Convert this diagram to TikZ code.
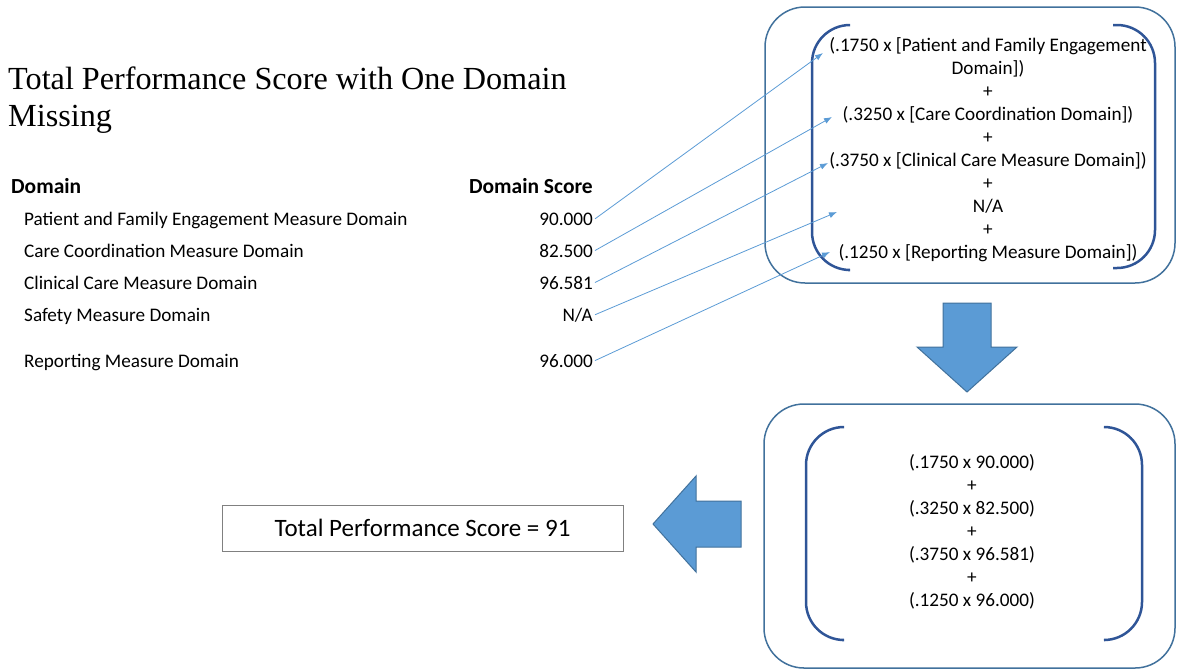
\documentclass[tikz,border=0pt]{standalone}
\usepackage{fontspec}
\setmainfont{Carlito}
\newfontfamily\titlefont{Liberation Serif}
\usetikzlibrary{arrows.meta,calc}

\definecolor{boxblue}{HTML}{41719C}
\definecolor{brkblue}{HTML}{2F5597}
\definecolor{fillblue}{HTML}{5B9BD5}
\definecolor{lineblue}{HTML}{5B9BD5}

\tikzset{
  txt/.style={inner sep=2pt,font=\fontsize{19.2}{23}\selectfont},
  head/.style={inner sep=2pt,font=\fontsize{21.5}{25}\selectfont\bfseries},
  conn/.style={draw=lineblue,line width=0.8pt,-{Latex[length=8pt,width=6pt]}},
  bigbox/.style={draw=boxblue,line width=1.5pt,rounded corners=40pt},
  brk/.style={draw=brkblue,line width=2.5pt,rounded corners=38pt},
  fatarrow/.style={draw=boxblue,line width=1pt,fill=fillblue,line join=miter},
}

\begin{document}
\begin{tikzpicture}[x=1pt,y=-1pt]
\useasboundingbox (0,0) rectangle (1177,670);

% title
\node[anchor=base west,inner sep=0pt,font=\fontsize{32.2}{37}\titlefont] (title) at (8,89) {Total Performance Score with One Domain};
\node[anchor=base west,inner sep=0pt,font=\fontsize{32.2}{37}\titlefont] (title2) at (8,126) {Missing};

% table
\node[head,anchor=base west] (hd) at (9,193) {Domain};
\node[head,anchor=base east] (hs) at (595,193) {Domain Score};

\node[txt,anchor=base west] (d1) at (22,225) {Patient and Family Engagement Measure Domain};
\node[txt,anchor=base west] (d2) at (22,257) {Care Coordination Measure Domain};
\node[txt,anchor=base west] (d3) at (22,289) {Clinical Care Measure Domain};
\node[txt,anchor=base west] (d4) at (22,321) {Safety Measure Domain};
\node[txt,anchor=base west] (d5) at (22,367) {Reporting Measure Domain};

\node[txt,anchor=base east] (v1) at (595,225) {90.000};
\node[txt,anchor=base east] (v2) at (595,257) {82.500};
\node[txt,anchor=base east] (v3) at (595,289) {96.581};
\node[txt,anchor=base east] (v4) at (595,321) {N/A};
\node[txt,anchor=base east] (v5) at (595,367) {96.000};

% formula box
\draw[bigbox] (765,7) rectangle (1175,283);
\draw[brk] (848,25) -- (812,25) -- (812,270) -- (848,270);
\draw[brk] (1113,25) -- (1155,25) -- (1155,268) -- (1113,268);
\node[txt,align=center] (formula) at (988,150) {(.1750 x [Patient and Family Engagement\\Domain])\\+\\(.3250 x [Care Coordination Domain])\\+\\(.3750 x [Clinical Care Measure Domain])\\+\\N/A\\+\\(.1250 x [Reporting Measure Domain])};

\coordinate (t1) at (823,53);
\coordinate (t2) at (832,117);
\coordinate (t3) at (828,163);
\coordinate (t4) at (837,212);
\coordinate (t5) at (830,252);

\draw[conn] (v1.east) -- (t1);
\draw[conn] (v2.east) -- (t2);
\draw[conn] (v3.east) -- (t3);
\draw[conn] (v4.east) -- (t4);
\draw[conn] (v5.east) -- (t5);

% down arrow
\draw[fatarrow] (943,303) -- (991,303) -- (991,347) -- (1017,347) -- (967,392) -- (917,347) -- (943,347) -- cycle;

% values box
\draw[bigbox] (764,404) rectangle (1175,668);
\draw[brk] (842,427) -- (806,427) -- (806,640) -- (842,640);
\draw[brk] (1105,427) -- (1142,427) -- (1142,640) -- (1105,640);
\node[txt,align=center] (values) at (972,532) {(.1750 x 90.000)\\+\\(.3250 x 82.500)\\+\\(.3750 x 96.581)\\+\\(.1250 x 96.000)};

% left arrow
\draw[fatarrow] (741,501) -- (741,547) -- (696,547) -- (696,572) -- (653,524) -- (696,476) -- (696,501) -- cycle;

% result
\node[draw=gray,line width=0.75pt,minimum width=401pt,minimum height=46pt,inner sep=0pt,font=\fontsize{25}{30}\selectfont] (total) at (422.5,528) {Total Performance Score = 91};

\end{tikzpicture}
\end{document}
